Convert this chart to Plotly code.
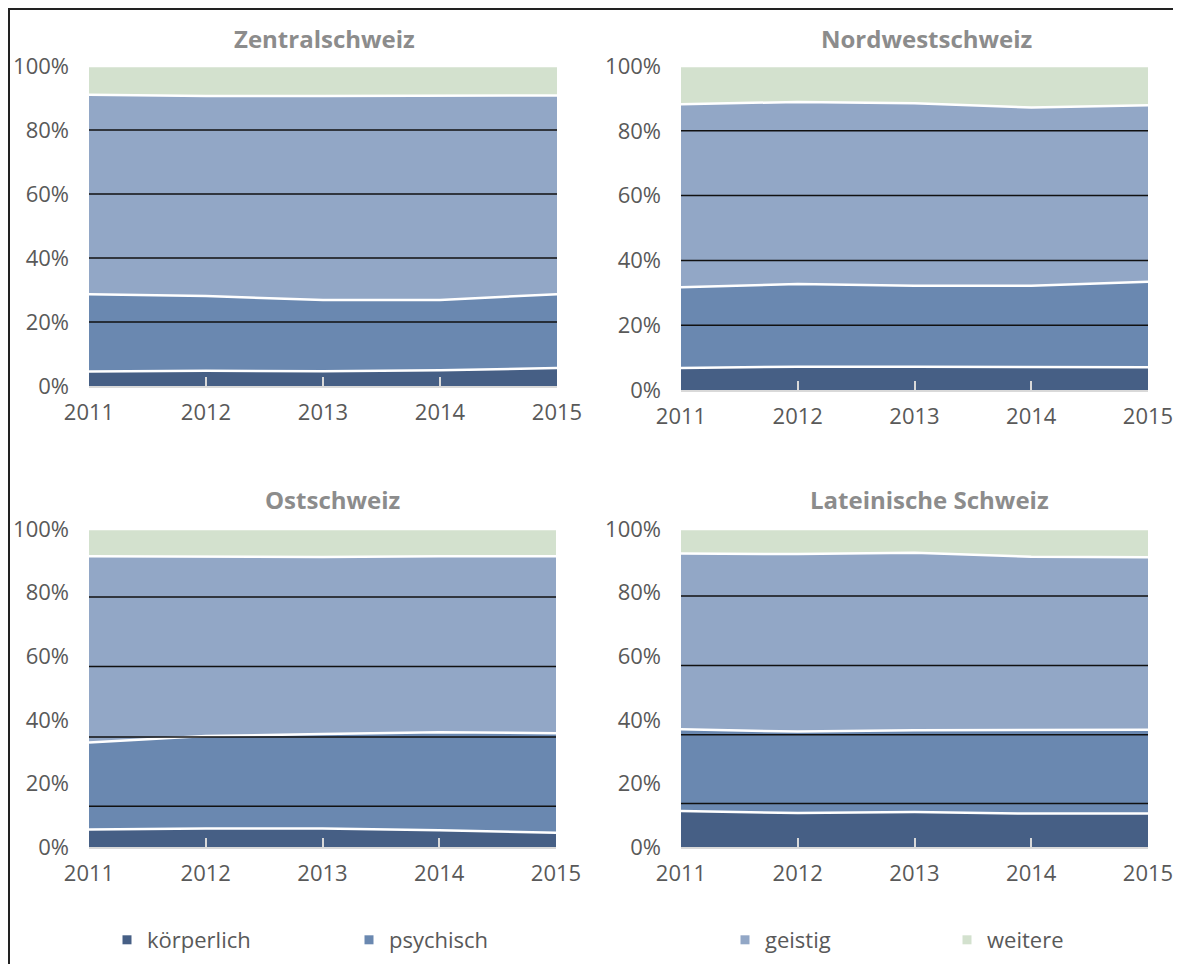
import plotly.graph_objects as go

W, H = 1181, 964
OFF = 8  # the page puts the figure 8px in from the window corner

years = [2011, 2012, 2013, 2014, 2015]
categories = ["körperlich", "psychisch", "geistig", "weitere"]
colors = ["#465f85", "#6a88b0", "#92a7c6", "#d3e1ce"]

# shares in percent
zentral_koerperlich = [4.5, 4.8, 4.6, 4.9, 5.6]
zentral_psychisch = [24.2, 23.3, 22.3, 22.0, 23.1]
zentral_geistig = [62.3, 62.5, 63.7, 63.7, 62.1]
zentral_weitere = [9.0, 9.4, 9.4, 9.4, 9.2]

nordwest_koerperlich = [6.8, 7.2, 7.2, 7.2, 7.0]
nordwest_psychisch = [24.9, 25.5, 25.0, 25.0, 26.4]
nordwest_geistig = [56.5, 56.2, 56.3, 55.0, 54.5]
nordwest_weitere = [11.8, 11.1, 11.5, 12.8, 12.1]

ost_koerperlich = [5.5, 5.8, 5.8, 5.3, 4.5]
ost_psychisch = [27.4, 29.1, 29.7, 30.8, 31.3]
ost_geistig = [58.5, 56.4, 55.7, 55.3, 55.6]
ost_weitere = [8.6, 8.7, 8.8, 8.6, 8.6]

latein_koerperlich = [11.3, 10.7, 11.0, 10.5, 10.5]
latein_psychisch = [25.7, 25.6, 25.7, 26.2, 26.4]
latein_geistig = [55.3, 55.8, 55.8, 54.6, 54.2]
latein_weitere = [7.7, 7.9, 7.5, 8.7, 8.9]

y_ticks = [0, 20, 40, 60, 80, 100]
y_labels = ["0%", "20%", "40%", "60%", "80%", "100%"]

regions = [
    ("Zentralschweiz", [zentral_koerperlich, zentral_psychisch, zentral_geistig, zentral_weitere]),
    ("Nordwestschweiz", [nordwest_koerperlich, nordwest_psychisch, nordwest_geistig, nordwest_weitere]),
    ("Ostschweiz", [ost_koerperlich, ost_psychisch, ost_geistig, ost_weitere]),
    ("Lateinische Schweiz", [latein_koerperlich, latein_psychisch, latein_geistig, latein_weitere]),
]


def px_x(v):
    return (v - OFF) / W


def px_y(v):
    return 1 - (v - OFF) / H


# panel boxes in screen pixels: left, right, top, bottom
panels = [(89, 557, 66, 386), (681, 1148, 66, 390), (89, 556, 529, 847), (681, 1148, 529, 847)]
title_pos = [(325, 38), (926, 38), (332, 500), (929, 500)]
# the lower panels have shifted grid lines in the original
grid_lines = [[20, 40, 60, 80], [20, 40, 60, 80], [12.8, 34.6, 56.8, 78.6], [13.7, 35.3, 57.1, 78.9]]

FONT = "Open Sans"
TICK_COLOR = "#595959"
TICK_SIZE = 22

fig = go.Figure()
layout = dict(
    template="none",
    width=W,
    height=H,
    margin=dict(l=0, r=0, t=0, b=0, autoexpand=False),
    paper_bgcolor="white",
    plot_bgcolor="rgba(0,0,0,0)",
    font=dict(family=FONT, size=TICK_SIZE, color=TICK_COLOR),
    showlegend=True,
)

shapes = []
annotations = []
for i, (name, series) in enumerate(regions):
    n = "" if i == 0 else str(i + 1)
    xa, ya = "x" + n, "y" + n
    for cat, vals, col in zip(categories, series, colors):
        fig.add_trace(
            go.Scatter(
                x=years,
                y=vals,
                name=cat,
                stackgroup=f"g{i}",
                groupnorm="percent" if cat == categories[0] else None,
                mode="lines",
                line=dict(color="white", width=2.5),
                fillcolor=col,
                xaxis=xa,
                yaxis=ya,
                showlegend=False,
                hoverinfo="skip",
            )
        )
    l, r, t, b = panels[i]
    layout["xaxis" + n] = dict(
        domain=[px_x(l), px_x(r)],
        anchor=ya,
        range=[2011, 2015],
        tickvals=years,
        showgrid=False,
        zeroline=False,
        showline=True,
        linecolor="#d9d9d9",
        linewidth=2,
        ticks="inside",
        ticklen=9,
        tickwidth=2,
        tickcolor="#d9d9d9",
        tickfont=dict(size=TICK_SIZE, color=TICK_COLOR),
        ticklabelstandoff=6,
        automargin=False,
        layer="above traces",
        fixedrange=True,
    )
    layout["yaxis" + n] = dict(
        domain=[px_y(b), px_y(t)],
        anchor=xa,
        range=[0, 100],
        tickvals=y_ticks,
        ticktext=y_labels,
        showgrid=False,
        zeroline=False,
        showline=False,
        ticks="",
        ticklabelstandoff=19,
        tickfont=dict(size=TICK_SIZE, color=TICK_COLOR),
        automargin=False,
        fixedrange=True,
    )
    shapes.append(dict(type="line", xref=xa + " domain", yref=ya, x0=0, x1=1, y0=100, y1=100,
                       line=dict(color="#e6e6e6", width=2), layer="below"))
    for g in grid_lines[i]:
        shapes.append(dict(type="line", xref=xa + " domain", yref=ya, x0=0, x1=1, y0=g, y1=g,
                           line=dict(color="#111111", width=1.5), layer="above"))
    tx, ty = title_pos[i]
    annotations.append(dict(text=f"<b>{name}</b>", x=px_x(tx), y=px_y(ty), xref="paper", yref="paper",
                            xanchor="center", yanchor="middle", showarrow=False,
                            font=dict(family=FONT, size=24, color="#8c8c8c")))

# outer frame
shapes.append(dict(type="rect", xref="paper", yref="paper", x0=px_x(9), x1=1.05, y0=-0.05, y1=px_y(9),
                   line=dict(color="#222222", width=2), fillcolor="rgba(0,0,0,0)"))

# legend: one legend per entry so they can sit where the original has them
legend_x = [132, 374, 750, 972]
for k, (cat, col) in enumerate(zip(categories, colors)):
    lg = "legend" if k == 0 else f"legend{k + 1}"
    fig.add_trace(
        go.Scatter(
            x=[None], y=[None], name=cat, mode="markers",
            marker=dict(symbol="square", size=9, color=col),
            legend=lg, showlegend=True,
        )
    )
    layout[lg] = dict(
        x=px_x(legend_x[k] - 25), y=px_y(940), xanchor="left", yanchor="middle",
        orientation="h", bgcolor="rgba(0,0,0,0)", font=dict(family=FONT, size=TICK_SIZE, color=TICK_COLOR),
        itemwidth=30,
    )

layout["shapes"] = shapes
layout["annotations"] = annotations
fig.update_layout(**layout)

fig.write_html("out.html")
